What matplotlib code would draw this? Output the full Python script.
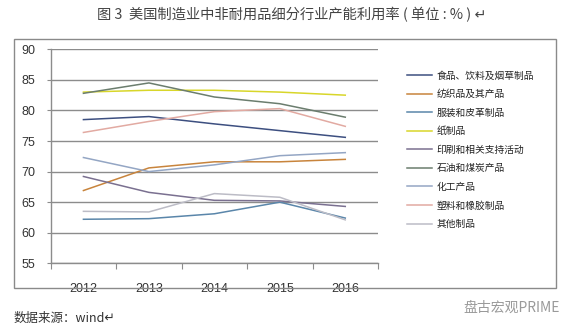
import matplotlib
matplotlib.use("Agg")
import matplotlib.pyplot as plt
from matplotlib.patches import Rectangle

plt.rcParams['font.family'] = ['Liberation Sans', 'Noto Sans CJK SC', 'DejaVu Sans']

years = ['2012', '2013', '2014', '2015', '2016']
series_names = ['食品、饮料及烟草制品', '纺织品及其产品', '服装和皮革制品', '纸制品',
                '印刷和相关支持活动', '石油和煤炭产品', '化工产品', '塑料和橡胶制品', '其他制品']
food = [78.5, 79.0, 77.8, 76.7, 75.6]
textile = [66.9, 70.6, 71.6, 71.6, 72.0]
apparel = [62.2, 62.3, 63.1, 65.0, 62.4]
paper = [83.0, 83.3, 83.3, 83.0, 82.5]
printing = [69.2, 66.6, 65.3, 65.2, 64.3]
petroleum = [82.8, 84.5, 82.2, 81.1, 78.9]
chemical = [72.3, 70.0, 71.1, 72.6, 73.1]
plastics = [76.4, 78.2, 79.8, 80.3, 77.4]
other = [63.5, 63.4, 66.4, 65.8, 62.1]
yticks = [55, 60, 65, 70, 75, 80, 85, 90]

values = [food, textile, apparel, paper, printing, petroleum, chemical, plastics, other]
colors = ['#3d4f80', '#c8843c', '#5a86aa', '#d8d62a', '#7a7090',
          '#6b7d6e', '#94a6c4', '#e2aaa2', '#bcbcc6']

W, H = 574, 336
fig = plt.figure(figsize=(W / 100, H / 100), dpi=100)
fig.patch.set_facecolor('white')

# outer frame
fig.add_artist(Rectangle((14 / W, 1 - 288 / H), (556 - 14) / W, (288 - 38.5) / H,
                         transform=fig.transFigure, fill=False, edgecolor='#8a8a8a', lw=1.0))

ax = fig.add_axes([50.7 / W, 1 - 263.3 / H, (378 - 50.7) / W, (263.3 - 49.3) / H])
ax.set_facecolor('white')
x = list(range(len(years)))
for name, vals, c in zip(series_names, values, colors):
    ax.plot(x, vals, color=c, lw=1.1, label=name)

ax.set_xlim(-0.5, len(years) - 0.5)
ax.set_ylim(yticks[0], yticks[-1])
ax.set_yticks(yticks)
ax.set_yticklabels([str(v) for v in yticks], fontsize=9, color='#333333')
ax.yaxis.grid(True, color='#8c8c8c', lw=1.0)
ax.set_axisbelow(True)
ax.tick_params(axis='y', length=3, color='#8c8c8c', pad=8)

ax.set_xticks([i + 0.5 for i in range(-1, len(years))])
ax.set_xticklabels([])
ax.set_xticks(x, minor=True)
ax.set_xticklabels(years, minor=True, fontsize=9, color='#333333')
ax.tick_params(axis='x', which='major', length=4, color='#8c8c8c', direction='out')
ax.tick_params(axis='x', which='minor', length=0, pad=14)

for s in ['top', 'right']:
    ax.spines[s].set_visible(False)
for s in ['left', 'bottom']:
    ax.spines[s].set_color('#8c8c8c')
    ax.spines[s].set_linewidth(1.0)

leg = fig.legend(loc='upper left', bbox_to_anchor=(407 / W, 1 - 70.5 / H),
                 frameon=False, handlelength=2.6, handletextpad=0.45,
                 labelspacing=0.88, borderpad=0, borderaxespad=0,
                 prop={'family': ['Noto Sans CJK SC', 'DejaVu Sans'], 'size': 7})
for t in leg.get_texts():
    t.set_color('#222222')

fig.text(292 / W, 1 - 15 / H, '图 3  美国制造业中非耐用品细分行业产能利用率 ( 单位 : % ) ↵',
         ha='center', va='center', fontsize=10.3, color='#444444',
         family=['Noto Sans CJK SC', 'DejaVu Sans'])
fig.text(14 / W, 1 - 318 / H, '数据来源：wind↵', ha='left', va='center', fontsize=9,
         color='#333333', family=['Noto Sans CJK SC', 'DejaVu Sans'])
fig.text(560 / W, 1 - 308 / H, '盘古宏观PRIME', ha='right', va='center', fontsize=10,
         color='#9a9a9a', family=['Noto Sans CJK SC', 'DejaVu Sans'])

fig.savefig('out.png', dpi=100, facecolor='white')
